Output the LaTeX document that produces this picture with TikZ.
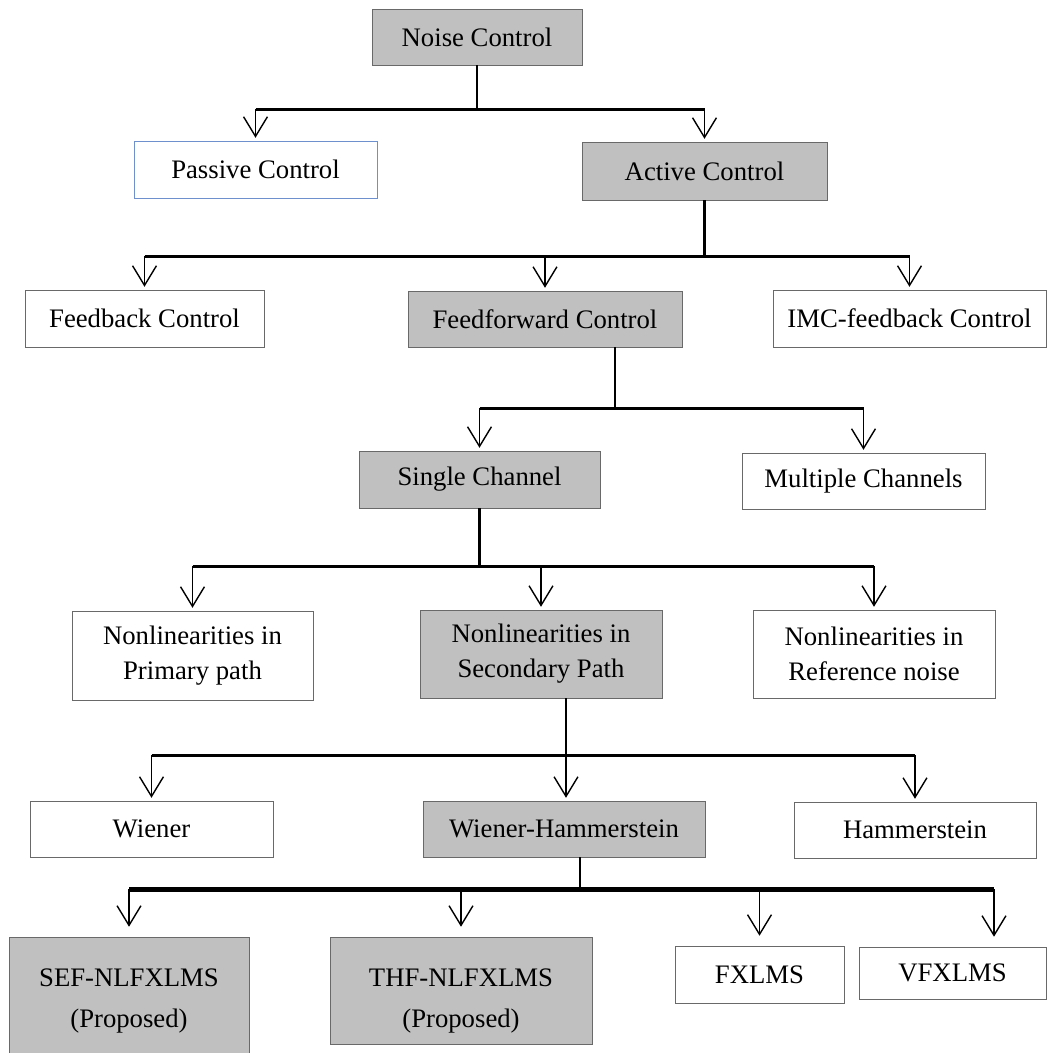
\documentclass[tikz,border=0pt]{standalone}
\usepackage{fontspec}
\setmainfont{Liberation Serif}
\usetikzlibrary{positioning, calc, arrows.meta}
\definecolor{boxgrey}{RGB}{192,192,192}
\definecolor{edgegrey}{RGB}{105,105,105}
\definecolor{passiveblue}{RGB}{110,145,205}

\begin{document}
\begin{tikzpicture}[x=0.025cm, y=-0.025cm,
    boxsize/.style 2 args={minimum width=#1*0.025cm, minimum height=#2*0.025cm},
    box/.style={draw=edgegrey, line width=0.6pt, inner sep=0pt, align=center,
        font=\fontsize{19}{25}\selectfont},
    greybox/.style={box, fill=boxgrey},
    trunk/.style={line width=2pt},
    bus/.style={line width=2.4pt},
    arr/.style={line width=1pt, shorten >=2pt,
        -{Straight Barb[length=14pt, width=17pt, line width=1pt]}}]
    \useasboundingbox (0,0) rectangle (1048,1053);

    % Boxes
    \node[greybox, boxsize={210}{56}] (noise) at (477,37) {Noise Control};
    \node[box, draw=passiveblue, boxsize={243}{57}] (passive) at (255.5,169.5) {Passive Control};
    \node[greybox, boxsize={245}{58}] (active) at (704.5,171) {Active Control};
    \node[box, boxsize={239}{57}] (feedback) at (144.5,318.5) {Feedback Control};
    \node[greybox, boxsize={274}{56}] (feedforward) at (545,319) {Feedforward Control};
    \node[box, boxsize={273}{57}] (imc) at (909.5,318.5) {IMC-feedback Control};
    \node[greybox, boxsize={241}{57}] (single) at (479.5,479.5) {Single Channel};
    \node[box, boxsize={243}{56}] (multiple) at (863.5,481) {Multiple Channels};
    \node[box, boxsize={241}{89}] (primary) at (192.5,655.5) {Nonlinearities in\\Primary path};
    \node[greybox, boxsize={242}{88}] (secondary) at (541,654) {Nonlinearities in\\Secondary Path};
    \node[box, boxsize={242}{88}] (reference) at (874,654) {Nonlinearities in\\Reference noise};
    \node[box, boxsize={243}{56}] (wiener) at (151.5,829) {Wiener};
    \node[greybox, boxsize={282}{56}] (wh) at (564,829) {Wiener-Hammerstein};
    \node[box, boxsize={242}{56}] (hammer) at (915,830) {Hammerstein};
    \node[greybox, boxsize={240}{128}] (sef) at (129,1001) {SEF-NLFXLMS\\[4pt](Proposed)};
    \node[greybox, boxsize={262}{107}] (thf) at (461,990.5) {\rule{0pt}{28pt}THF-NLFXLMS\\[4pt](Proposed)};
    \node[box, boxsize={169}{57}] (fxlms) at (759.5,974.5) {FXLMS};
    \node[box, boxsize={187}{52}] (vfxlms) at (952.5,973) {VFXLMS};

    % Noise control -> passive / active
    \draw[trunk] (noise.south) -- ++(0,44) coordinate (b1);
    \draw[bus] (b1 -| passive.north) -- (b1 -| active.north);
    \draw[arr] (b1 -| passive.north) -- (passive.north);
    \draw[arr] (b1 -| active.north) -- (active.north);

    % Active control -> three kinds
    \draw[trunk] (active.south) -- ++(0,56) coordinate (b2);
    \draw[bus] (b2 -| feedback.north) -- (b2 -| imc.north);
    \draw[arr] (b2 -| feedback.north) -- (feedback.north);
    \draw[arr] (b2 -| feedforward.north) -- (feedforward.north);
    \draw[arr] (b2 -| imc.north) -- (imc.north);

    % Feedforward -> channels
    \draw[trunk] ($(feedforward.south)+(70,0)$) -- ++(0,61) coordinate (b3);
    \draw[bus] (b3 -| single.north) -- (b3 -| multiple.north);
    \draw[arr] (b3 -| single.north) -- (single.north);
    \draw[arr] (b3 -| multiple.north) -- (multiple.north);

    % Single channel -> nonlinearities
    \draw[trunk] (single.south) -- ++(0,58) coordinate (b4);
    \draw[bus] (b4 -| primary.north) -- (b4 -| reference.north);
    \draw[arr] (b4 -| primary.north) -- (primary.north);
    \draw[arr] (b4 -| secondary.north) -- (secondary.north);
    \draw[arr] (b4 -| reference.north) -- (reference.north);

    % Secondary path -> models
    \draw[trunk] ($(secondary.south)+(25,0)$) -- ++(0,57) coordinate (b5);
    \draw[bus] (b5 -| wiener.north) -- (b5 -| hammer.north);
    \draw[arr] (b5 -| wiener.north) -- (wiener.north);
    \draw[arr] (b5) -- (b5 |- wh.north);
    \draw[arr] (b5 -| hammer.north) -- (hammer.north);

    % Wiener-Hammerstein -> algorithms
    \coordinate (vfx) at ($(vfxlms.north)+(41.5,0)$);
    \draw[trunk] ($(wh.south)+(16,0)$) -- ++(0,32) coordinate (b6);
    \draw[line width=3pt] (b6 -| sef.north) -- (b6 -| vfx);
    \draw[arr, shorten >=7pt] (b6 -| sef.north) -- (sef.north);
    \draw[arr, shorten >=7pt] (b6 -| thf.north) -- (thf.north);
    \draw[arr, shorten >=7pt] (b6 -| fxlms.north) -- (fxlms.north);
    \draw[arr, shorten >=7pt] (b6 -| vfx) -- (vfx);
\end{tikzpicture}
\end{document}
